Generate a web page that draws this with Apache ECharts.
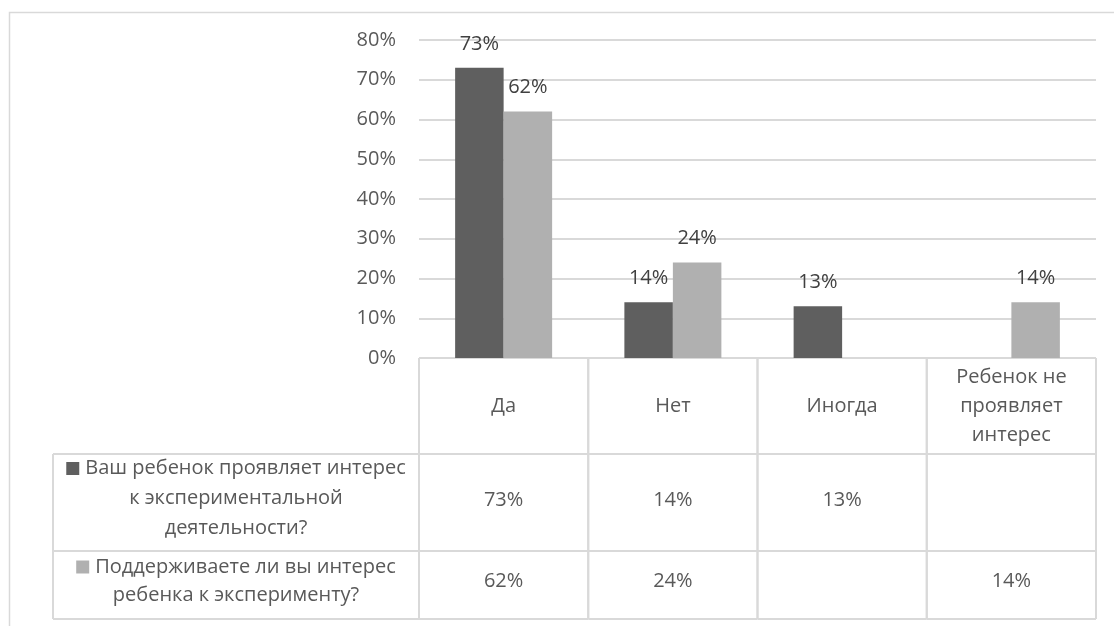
<!DOCTYPE html>
<html>
<head>
<meta charset="utf-8">
<script src="https://cdn.jsdelivr.net/npm/echarts@6/dist/echarts.min.js"></script>
<style>html,body{margin:0;padding:0;background:#fff;}#c{width:1114px;height:626px;}</style>
</head>
<body>
<div id="c"></div>
<script>
// ---- data ----
const categories = ['Да', 'Нет', 'Иногда', 'Ребенок не\nпроявляет\nинтерес'];
const seriesNames = [
  'Ваш ребенок проявляет интерес\nк экспериментальной\nдеятельности?',
  'Поддерживаете ли вы интерес\nребенка к эксперименту?'
];
const interestValues = [0.73, 0.14, 0.13, null];
const supportValues = [0.62, 0.24, null, 0.14];
const yMin = 0, yMax = 0.8, yStep = 0.1;

// ---- layout / style ----
const FONT = 'Open Sans';
const FS = 20;
const colors = ['#5f5f5f', '#b0b0b0'];
const gridColor = '#d9d9d9';
const textColor = '#595959';
const rowBounds = [0, 96, 193, 261]; // table rows (px units of table axis)
const tableLeft = 53;
const pct = v => (v === null || v === undefined) ? '' : Math.round(v * 100) + '%';

const chart = echarts.init(document.getElementById('c'), null, {renderer: 'canvas'});

function renderTable(params, api) {
  const i = params.dataIndex;
  const cw = api.size([1, 0])[0];
  const cx = api.coord([i, 0])[0];
  const x0 = cx - cw / 2, x1 = cx + cw / 2;
  const Y = b => api.coord([i, b])[1];
  const ls = {stroke: gridColor, lineWidth: 2};
  const children = [];
  const line = (xa, ya, xb, yb) => children.push({type: 'line', shape: {x1: xa, y1: ya, x2: xb, y2: yb}, style: ls, silent: true});
  line(x0, Y(rowBounds[0]), x0, Y(rowBounds[3]));
  line(x1, Y(rowBounds[0]), x1, Y(rowBounds[3]));
  rowBounds.forEach(b => line(x0, Y(b), x1, Y(b)));
  const txt = (s, y) => children.push({
    type: 'text', silent: true,
    style: {text: s, x: cx, y: y, align: 'center', verticalAlign: 'middle',
      font: FS + 'px "' + FONT + '"', fill: textColor, lineHeight: 29}
  });
  const mid = r => (Y(rowBounds[r]) + Y(rowBounds[r + 1])) / 2;
  txt(categories[i], mid(0));
  txt(pct(interestValues[i]), mid(1) - 2);
  txt(pct(supportValues[i]), mid(2) - 4);
  if (i === 0) {
    line(tableLeft, Y(rowBounds[1]), x0, Y(rowBounds[1]));
    line(tableLeft, Y(rowBounds[2]), x0, Y(rowBounds[2]));
    line(tableLeft, Y(rowBounds[3]), x0, Y(rowBounds[3]));
    line(tableLeft, Y(rowBounds[1]), tableLeft, Y(rowBounds[3]));
    const hx = (tableLeft + x0) / 2;
    seriesNames.forEach((name, k) => {
      const parts = name.split('\n');
      const t = '{sq|}{sp|}' + parts[0] + (parts.length > 1 ? '\n' + parts.slice(1).join('\n') : '');
      children.push({
        type: 'text', silent: true,
        style: {
          text: t, x: hx, y: mid(k + 1) - (k === 0 ? 4 : 4), align: 'center', verticalAlign: 'middle',
          font: FS + 'px "' + FONT + '"', fill: textColor, lineHeight: k === 0 ? 30 : 28,
          rich: {
            sq: {width: 13, height: 13, backgroundColor: colors[k]},
            sp: {width: 6}
          }
        }
      });
    });
  }
  return {type: 'group', children};
}

const option = {
  backgroundColor: '#fff',
  animation: false,
  textStyle: {fontFamily: FONT},
  graphic: [{
    type: 'rect', left: 7, top: 10, silent: true, z: -10,
    shape: {width: 1130, height: 700},
    style: {fill: 'none', stroke: gridColor, lineWidth: 1.5}
  }],
  grid: [
    {left: 419, right: 18, top: 40, bottom: 268},
    {left: 419, right: 18, top: 358, bottom: 7}
  ],
  xAxis: [
    {type: 'category', gridIndex: 0, data: categories, axisLine: {show: false}, axisTick: {show: false}, axisLabel: {show: false}},
    {type: 'category', gridIndex: 1, data: categories, show: false}
  ],
  yAxis: [
    {type: 'value', gridIndex: 0, min: yMin, max: yMax, interval: yStep,
      axisLine: {show: false}, axisTick: {show: false},
      axisLabel: {formatter: v => Math.round(v * 100) + '%', color: textColor, fontSize: FS, fontFamily: FONT, margin: 23},
      splitLine: {lineStyle: {color: gridColor, width: 2}}},
    {type: 'value', gridIndex: 1, min: rowBounds[0], max: rowBounds[3], inverse: true, show: false}
  ],
  series: [
    {name: seriesNames[0], type: 'bar', xAxisIndex: 0, yAxisIndex: 0, data: interestValues,
      barWidth: 48.5, barGap: '0%', itemStyle: {color: colors[0]},
      label: {show: true, position: 'top', distance: 14, formatter: p => pct(p.value), color: '#404040', fontSize: FS, fontFamily: FONT}},
    {name: seriesNames[1], type: 'bar', xAxisIndex: 0, yAxisIndex: 0, data: supportValues,
      barWidth: 48.5, barGap: '0%', itemStyle: {color: colors[1]},
      label: {show: true, position: 'top', distance: 14, formatter: p => pct(p.value), color: '#404040', fontSize: FS, fontFamily: FONT}},
    {type: 'custom', xAxisIndex: 1, yAxisIndex: 1, renderItem: renderTable, silent: true,
      data: categories.map((c, i) => [i, 0]), clip: false}
  ]
};
chart.setOption(option);
</script>
</body>
</html>
